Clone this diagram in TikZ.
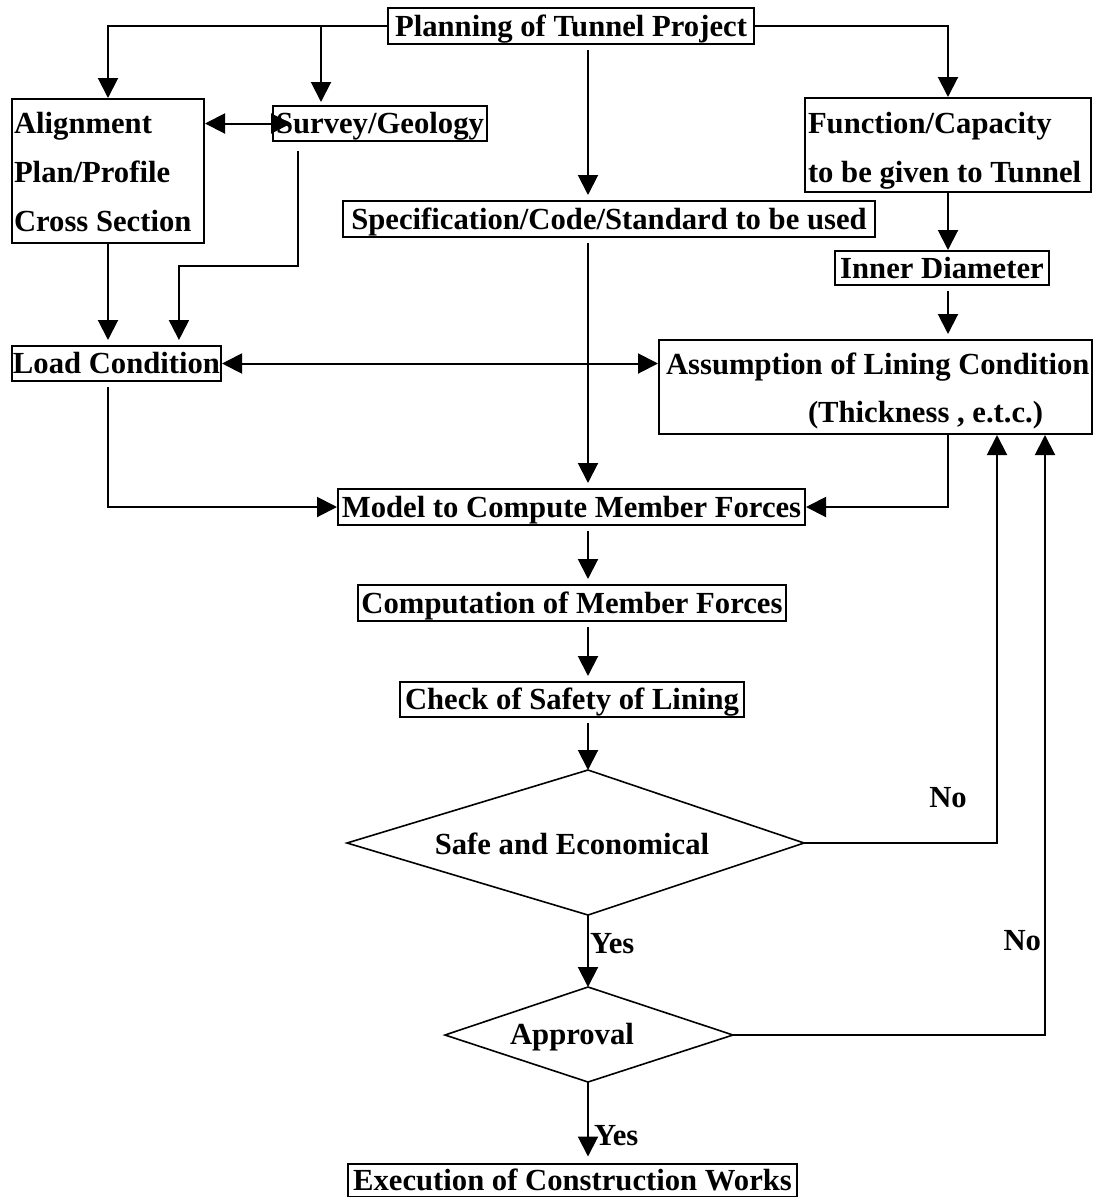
\documentclass[tikz,border=0pt]{standalone}
\usepackage{fontspec}
\newfontfamily\flowserif{Liberation Serif}
\usetikzlibrary{arrows.meta,calc}
\newlength{\px}
\setlength{\px}{0.75pt}
\newcommand\flowfont{\flowserif\fontsize{23pt}{35.6pt}\selectfont\bfseries}
\newcommand\tagfont{\flowserif\fontsize{23pt}{26pt}\selectfont\bfseries}

\begin{document}
\begin{tikzpicture}[x=0.75pt,y=-0.75pt,
  line width=1.5pt,
  tip/.style={-{Triangle[length=15pt,width=15pt]}},
  tips/.style={{Triangle[length=15pt,width=15pt]}-{Triangle[length=15pt,width=15pt]}},
  gap/.style={shorten <=5\px, shorten >=5\px},
  frame/.style={draw, line width=1.5pt, inner sep=1\px},
  box/.style={frame, font=\flowfont, text height=15.2pt, text depth=0pt},
  plain/.style={inner sep=0pt, font=\flowfont, anchor=base west},
  tag/.style={inner sep=0pt, font=\tagfont},
  decision/.style={line width=1.2pt}]

\useasboundingbox (0,0) rectangle (1102,1197);

% ---- boxes ----
\node[box, minimum width=366\px, minimum height=36\px] (plan) at (571,26) {Planning of Tunnel Project};

\node[frame, minimum width=192\px, minimum height=144\px] (align) at (108,171) {};
\node[plain] (alignA) at (13,133) {Alignment};
\node[plain] (alignB) at (13,182) {Plan/Profile};
\node[plain] (alignC) at (13,231) {Cross Section};

\node[box, minimum width=214\px, minimum height=35\px] (surv) at (380,123.5) {Survey/Geology};

\node[frame, minimum width=286\px, minimum height=94\px] (func) at (948,145) {};
\node[plain] (funcA) at (807,133) {Function/Capacity};
\node[plain] (funcB) at (807,182) {to be given to Tunnel};

\node[box, minimum width=532\px, minimum height=36\px] (spec) at (609,219) {Specification/Code/Standard to be used};
\node[box, minimum width=214\px, minimum height=34\px] (inner) at (942,268) {Inner Diameter};
\node[box, minimum width=209\px, minimum height=35\px] (load) at (116.5,363.5) {Load Condition};

\node[frame, minimum width=433\px, minimum height=94\px] (assum) at (875.5,387) {};
\node[plain] (assumA) at (665,374) {Assumption of Lining Condition};
\node[plain] (assumB) at (807,422) {(Thickness , e.t.c.)};

\node[box, minimum width=467\px, minimum height=36\px] (model) at (571.5,507) {Model to Compute Member Forces};
\node[box, minimum width=428\px, minimum height=36\px] (comp) at (572,603) {Computation of Member Forces};
\node[box, minimum width=344\px, minimum height=35\px] (check) at (572,699.5) {Check of Safety of Lining};
\node[box, minimum width=449\px, minimum height=33\px] (exec) at (572.5,1180) {Execution of Construction Works};

% ---- decisions ----
\coordinate (sT) at (588,770);
\coordinate (sR) at (804,843);
\coordinate (sB) at (588,915);
\coordinate (sL) at (347,843);
\draw[decision] (sT) -- (sR) -- (sB) -- (sL) -- cycle;
\node[tag] (safe) at (572,844) {Safe and Economical};

\coordinate (aT) at (588,987);
\coordinate (aR) at (733,1035);
\coordinate (aB) at (588,1082);
\coordinate (aL) at (445,1035);
\draw[decision] (aT) -- (aR) -- (aB) -- (aL) -- cycle;
\node[tag] (appr) at (572,1037) {Approval};

% centre column and branch points
\coordinate (cx) at (588,0);
\coordinate (svIn) at ($(surv.north west)+(49,-3)$);
\coordinate (svOut) at ($(surv.south west)+(26,9)$);
\coordinate (svTip) at ($(surv.west)+(19,0)$);

% ---- connectors ----
\draw[tip] (plan.west) -| (align.north);
\draw[tip] (svIn |- plan.west) -- (svIn);
\draw[tip] (plan.east) -| (func.north);
\draw[tip, gap] (plan.south -| cx) -- (spec.north -| cx);
\draw[tips] (align.east |- svTip) -- (svTip);
\draw[tip] (svOut) |- ($(load.north west)+(168,-79)$) -- ($(load.north west)+(168,-5)$);
\draw[tip] (align.south) -- ($(align.south |- load.north)+(0,-5)$);
\draw[tip] (func.south) -- (func.south |- inner.north);
\draw[tip, gap] (inner.south -| func.south) -- (assum.north -| func.south);
\draw[tips] (load.east) -- (load.east -| assum.west);
\draw[tip, gap] (spec.south -| cx) -- (model.north -| cx);
\draw[tip] ($(load.south)+(-8.5,5)$) |- (model.west);
\draw[tip] (assum.south -| func.south) |- (model.east);
\draw[tip, gap] (model.south -| cx) -- (comp.north -| cx);
\draw[tip, gap] (comp.south -| cx) -- (check.north -| cx);
\draw[tip, shorten <=5\px] (check.south -| cx) -- (sT);
\draw[tip] (sB) -- node[tag, right, pos=0.4, xshift=1\px] (yes1) {Yes} (aT);
\draw[tip, shorten >=6\px] (aB) -- node[tag, right, pos=0.66, xshift=5\px] (yes2) {Yes} (exec.north -| cx);
\draw[tip] (sR) -| ($(assum.south east)+(-96,0)$);
\draw[tip] (aR) -| ($(assum.south east)+(-48,0)$);
\node[tag] (no1) at (948,798) {No};
\node[tag, anchor=east] (no2) at (1042,941) {No};
\end{tikzpicture}
\end{document}
